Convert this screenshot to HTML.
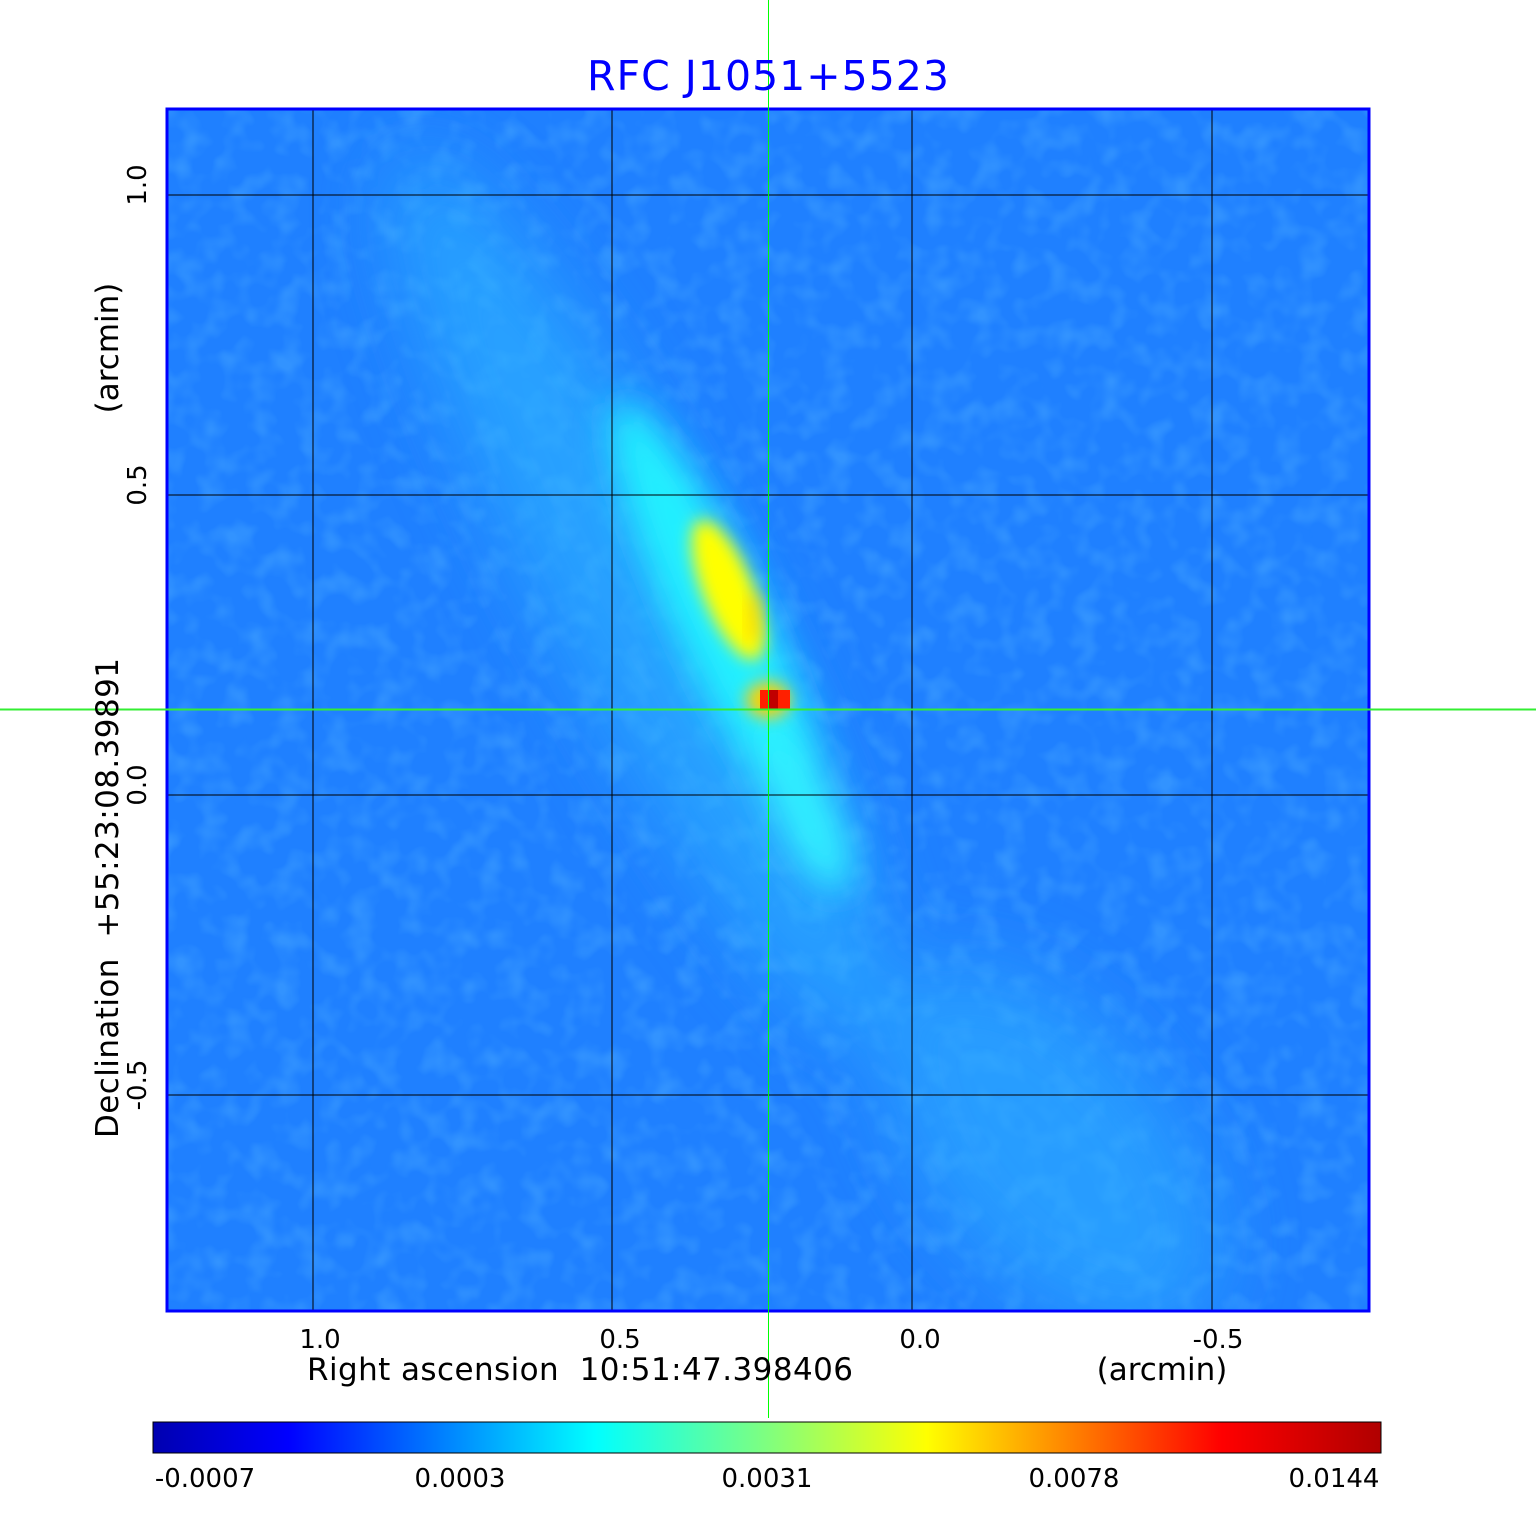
<!DOCTYPE html>
<html><head><style>
body{margin:0;background:#fff;width:1536px;height:1511px;overflow:hidden;font-family:"Liberation Sans","DejaVu Sans",sans-serif}
</style></head><body>
<svg width="1536" height="1511" xmlns="http://www.w3.org/2000/svg" font-family="DejaVu Sans, Liberation Sans, sans-serif">
<defs>
<clipPath id="c"><rect x="167" y="109" width="1202" height="1202"/></clipPath>
<filter id="b1" x="-50%" y="-50%" width="200%" height="200%"><feGaussianBlur stdDeviation="40"/></filter>
<filter id="b2" x="-50%" y="-50%" width="200%" height="200%"><feGaussianBlur stdDeviation="18"/></filter>
<filter id="b3" x="-50%" y="-50%" width="200%" height="200%"><feGaussianBlur stdDeviation="8"/></filter>
<filter id="n"><feTurbulence type="fractalNoise" baseFrequency="0.04" numOctaves="2" seed="3"/><feColorMatrix type="matrix" values="0 0 0 0 0.05  0 0 0 0 0.35  0 0 0 0 1  0 0 0 -2.5 1.4"/></filter>
<linearGradient id="jet" x1="0" x2="1">
<stop offset="0" stop-color="#0000b0"/><stop offset="0.11" stop-color="#0000ff"/><stop offset="0.36" stop-color="#00ffff"/><stop offset="0.5" stop-color="#7fff7f"/><stop offset="0.63" stop-color="#ffff00"/><stop offset="0.87" stop-color="#ff0000"/><stop offset="1" stop-color="#b00000"/>
</linearGradient>
</defs>
<g clip-path="url(#c)">
<rect x="167" y="109" width="1202" height="1202" fill="#1f80ff"/>
<rect x="167" y="109" width="1202" height="1202" filter="url(#n)" opacity="0.6"/>
<g filter="url(#b1)" opacity="0.6">
<ellipse cx="640" cy="600" rx="90" ry="500" fill="#2fb8ff" transform="rotate(-28 640 600)"/>
<ellipse cx="1050" cy="1150" rx="120" ry="220" fill="#2fb0ff" transform="rotate(-40 1050 1150)"/>
</g>
<g filter="url(#b2)">
<ellipse cx="720" cy="620" rx="45" ry="240" fill="#20f0ff" transform="rotate(-25 720 620)"/>
<ellipse cx="805" cy="810" rx="30" ry="90" fill="#30f0ff" transform="rotate(-25 805 810)"/>
</g>
<g filter="url(#b3)">
<ellipse cx="728" cy="590" rx="25" ry="75" fill="#ffff00" transform="rotate(-22 728 590)"/>
<ellipse cx="768" cy="700" rx="22" ry="18" fill="#ffd000"/>
</g>
<rect x="748" y="595" width="12" height="45" fill="#ffc800" opacity="0.7" filter="url(#b3)"/>
<rect x="760" y="690" width="30" height="20" fill="#ff2000"/>
<rect x="768" y="690" width="10" height="20" fill="#c00000"/>
<g stroke="#000" stroke-width="1">
<line x1="313" y1="109" x2="313" y2="1311"/><line x1="612" y1="109" x2="612" y2="1311"/><line x1="912" y1="109" x2="912" y2="1311"/><line x1="1212" y1="109" x2="1212" y2="1311"/>
<line x1="167" y1="195" x2="1369" y2="195"/><line x1="167" y1="495" x2="1369" y2="495"/><line x1="167" y1="795" x2="1369" y2="795"/><line x1="167" y1="1095" x2="1369" y2="1095"/>
</g>
</g>
<rect x="167" y="109" width="1202" height="1202" fill="none" stroke="#0000ff" stroke-width="3"/>
<rect x="768" y="0" width="1" height="1418" fill="#00ff00"/>
<rect x="0" y="708.5" width="1536" height="2" fill="#33ee33"/>
<text x="768" y="90" font-size="41" fill="#0000ff" text-anchor="middle" textLength="362">RFC J1051+5523</text>
<g font-size="26" fill="#000" text-anchor="middle">
<text x="320" y="1348">1.0</text><text x="620" y="1348">0.5</text><text x="920" y="1348">0.0</text><text x="1218" y="1348">-0.5</text>
<text x="580" y="1380" font-size="31" xml:space="preserve" textLength="546">Right ascension  10:51:47.398406</text>
<text x="1162" y="1380" font-size="31">(arcmin)</text>
<text transform="translate(146 185) rotate(-90)">1.0</text>
<text transform="translate(146 485) rotate(-90)">0.5</text>
<text transform="translate(146 785) rotate(-90)">0.0</text>
<text transform="translate(146 1085) rotate(-90)">-0.5</text>
<text transform="translate(118 348) rotate(-90)" font-size="31">(arcmin)</text>
<text transform="translate(118 898) rotate(-90)" font-size="31" xml:space="preserve" textLength="480">Declination  +55:23:08.39891</text>
</g>
<rect x="153" y="1422" width="1228" height="31" fill="url(#jet)" stroke="#000" stroke-width="1"/>
<g font-size="26" fill="#000" text-anchor="middle">
<text x="205" y="1487">-0.0007</text><text x="460" y="1487">0.0003</text><text x="767" y="1487">0.0031</text><text x="1074" y="1487">0.0078</text><text x="1334" y="1487">0.0144</text>
</g>
</svg>
</body></html>
